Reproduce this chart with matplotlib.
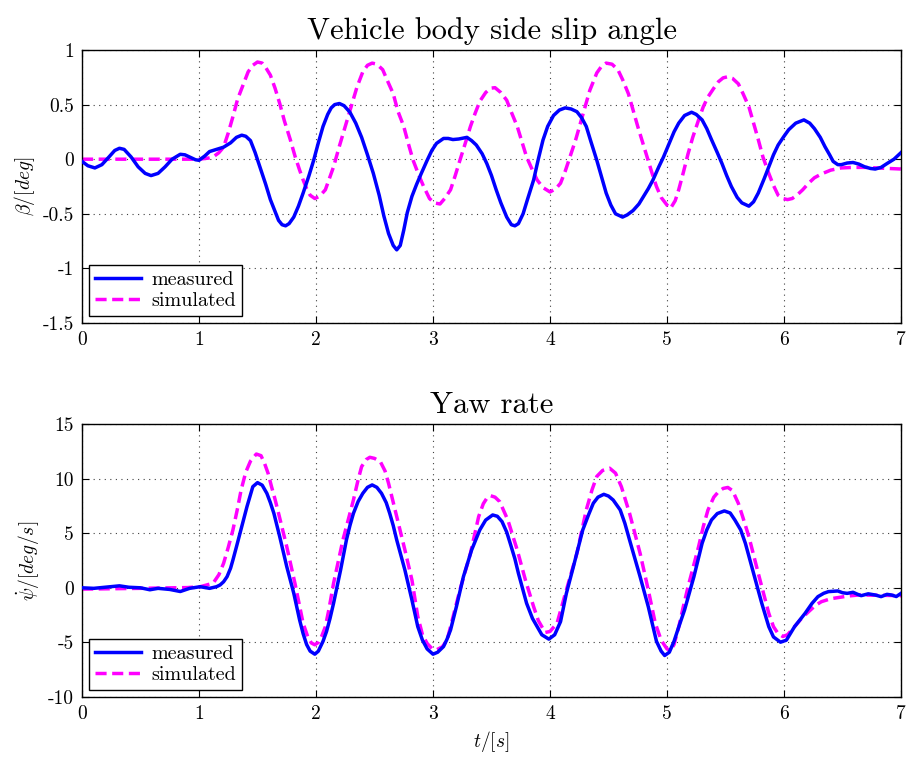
"""
Vehicle body side slip angle and yaw rate: measured vs simulated
"""
import matplotlib
matplotlib.use("Agg")
import matplotlib.pyplot as plt
import numpy as np

# ============= DATA =============
# side slip angle, measured
t_beta_meas = [0.00, 0.05, 0.11, 0.17, 0.23, 0.28, 0.32, 0.36, 0.42, 0.48, 0.54, 0.59, 0.65, 0.71, 0.77,
               0.84, 0.88, 0.92, 0.97, 1.00, 1.05, 1.09, 1.15, 1.21, 1.27, 1.32, 1.365, 1.40, 1.44, 1.48,
               1.52, 1.57, 1.61, 1.65, 1.68, 1.71, 1.74, 1.77, 1.81, 1.85, 1.89, 1.94, 1.98, 2.02, 2.06,
               2.10, 2.13, 2.16, 2.20, 2.24, 2.29, 2.34, 2.39, 2.44, 2.49, 2.54, 2.58, 2.62, 2.66, 2.69,
               2.72, 2.75, 2.78, 2.82, 2.86, 2.90, 2.95, 2.99, 3.03, 3.09, 3.13, 3.17, 3.22, 3.29, 3.33,
               3.37, 3.42, 3.46, 3.50, 3.54, 3.58, 3.63, 3.67, 3.70, 3.73, 3.77, 3.81, 3.86, 3.90, 3.94,
               3.98, 4.03, 4.08, 4.13, 4.18, 4.23, 4.27, 4.31, 4.35, 4.40, 4.44, 4.48, 4.52, 4.56, 4.62,
               4.66, 4.71, 4.76, 4.80, 4.84, 4.88, 4.93, 4.97, 5.03, 5.06, 5.10, 5.15, 5.21, 5.25, 5.30,
               5.34, 5.38, 5.43, 5.47, 5.51, 5.55, 5.60, 5.64, 5.70, 5.74, 5.78, 5.83, 5.87, 5.91, 5.95,
               6.00, 6.04, 6.10, 6.17, 6.22, 6.26, 6.31, 6.35, 6.39, 6.42, 6.46, 6.49, 6.54, 6.59, 6.64,
               6.69, 6.74, 6.78, 6.83, 6.88, 6.94, 7.00]
beta_meas = [-0.02, -0.06, -0.08, -0.05, 0.02, 0.08, 0.10, 0.09, 0.02, -0.07, -0.13, -0.15, -0.13, -0.07, 0.00,
             0.045, 0.04, 0.02, -0.005, -0.01, 0.03, 0.07, 0.09, 0.11, 0.15, 0.20, 0.22, 0.21, 0.17, 0.06,
             -0.07, -0.23, -0.37, -0.48, -0.56, -0.60, -0.61, -0.59, -0.53, -0.43, -0.31, -0.15, -0.01, 0.15, 0.30,
             0.41, 0.47, 0.50, 0.51, 0.49, 0.43, 0.33, 0.20, 0.04, -0.13, -0.33, -0.52, -0.68, -0.79, -0.83,
             -0.79, -0.65, -0.49, -0.34, -0.23, -0.13, -0.01, 0.08, 0.145, 0.19, 0.19, 0.18, 0.185, 0.20, 0.17,
             0.13, 0.05, -0.04, -0.15, -0.28, -0.40, -0.53, -0.60, -0.61, -0.59, -0.50, -0.36, -0.19, 0.00, 0.175,
             0.30, 0.40, 0.45, 0.47, 0.46, 0.435, 0.38, 0.30, 0.16, -0.01, -0.16, -0.31, -0.42, -0.50, -0.53,
             -0.51, -0.47, -0.41, -0.34, -0.27, -0.19, -0.07, 0.02, 0.175, 0.25, 0.33, 0.40, 0.43, 0.41, 0.36,
             0.28, 0.18, 0.06, -0.04, -0.15, -0.25, -0.35, -0.40, -0.43, -0.39, -0.31, -0.18, -0.07, 0.04, 0.13,
             0.21, 0.27, 0.33, 0.36, 0.33, 0.28, 0.20, 0.115, 0.04, -0.02, -0.05, -0.05, -0.035, -0.03, -0.045,
             -0.07, -0.085, -0.09, -0.075, -0.04, 0.00, 0.06]

# side slip angle, simulated
t_beta_sim = [0.00, 0.50, 1.00, 1.08, 1.12, 1.17, 1.21, 1.25, 1.29, 1.33, 1.38, 1.42, 1.46, 1.50, 1.54,
              1.57, 1.61, 1.65, 1.69, 1.73, 1.78, 1.82, 1.86, 1.89, 1.92, 1.95, 1.99, 2.03, 2.08, 2.11,
              2.15, 2.20, 2.25, 2.30, 2.35, 2.40, 2.44, 2.48, 2.52, 2.57, 2.61, 2.66, 2.70, 2.75, 2.79,
              2.83, 2.88, 2.92, 2.97, 3.01, 3.06, 3.10, 3.15, 3.19, 3.23, 3.28, 3.32, 3.36, 3.40, 3.45,
              3.49, 3.53, 3.58, 3.63, 3.67, 3.72, 3.76, 3.80, 3.85, 3.89, 3.94, 4.00, 4.05, 4.09, 4.13,
              4.17, 4.22, 4.26, 4.30, 4.34, 4.40, 4.44, 4.48, 4.53, 4.58, 4.62, 4.67, 4.71, 4.75, 4.79,
              4.83, 4.87, 4.91, 4.95, 5.00, 5.03, 5.07, 5.10, 5.14, 5.18, 5.22, 5.27, 5.31, 5.35, 5.40,
              5.44, 5.48, 5.52, 5.56, 5.61, 5.65, 5.70, 5.74, 5.78, 5.82, 5.87, 5.91, 5.95, 5.99, 6.03,
              6.07, 6.11, 6.16, 6.21, 6.26, 6.32, 6.40, 6.49, 6.59, 6.69, 6.80, 6.90, 7.00]
beta_sim = [0.00, 0.00, 0.00, 0.01, 0.02, 0.06, 0.11, 0.24, 0.39, 0.55, 0.69, 0.80, 0.86, 0.89, 0.88,
            0.84, 0.77, 0.65, 0.51, 0.35, 0.18, 0.03, -0.10, -0.19, -0.27, -0.33, -0.36, -0.34, -0.28, -0.19,
            -0.07, 0.12, 0.30, 0.48, 0.66, 0.80, 0.86, 0.88, 0.87, 0.82, 0.72, 0.60, 0.44, 0.30, 0.14,
            -0.01, -0.15, -0.25, -0.36, -0.40, -0.41, -0.36, -0.28, -0.15, -0.01, 0.16, 0.30, 0.42, 0.53, 0.61,
            0.65, 0.655, 0.61, 0.54, 0.43, 0.30, 0.16, 0.02, -0.10, -0.19, -0.26, -0.30, -0.27, -0.22, -0.11,
            0.02, 0.18, 0.33, 0.48, 0.63, 0.79, 0.85, 0.88, 0.87, 0.82, 0.73, 0.60, 0.45, 0.30, 0.16,
            0.02, -0.12, -0.25, -0.35, -0.42, -0.45, -0.38, -0.28, -0.12, 0.05, 0.20, 0.36, 0.48, 0.57, 0.65,
            0.71, 0.745, 0.755, 0.74, 0.69, 0.60, 0.48, 0.33, 0.18, 0.02, -0.13, -0.24, -0.33, -0.36, -0.37,
            -0.36, -0.33, -0.28, -0.22, -0.17, -0.135, -0.10, -0.08, -0.075, -0.075, -0.08, -0.085, -0.09]

# yaw rate, measured
t_psi_meas = [0.00, 0.10, 0.20, 0.32, 0.40, 0.50, 0.58, 0.65, 0.75, 0.84, 0.92, 1.01, 1.09, 1.15, 1.18,
              1.21, 1.24, 1.27, 1.29, 1.32, 1.35, 1.38, 1.41, 1.44, 1.46, 1.50, 1.54, 1.58, 1.61, 1.64,
              1.69, 1.72, 1.75, 1.78, 1.81, 1.86, 1.89, 1.92, 1.95, 1.99, 2.02, 2.06, 2.09, 2.12, 2.15,
              2.18, 2.21, 2.26, 2.29, 2.32, 2.36, 2.40, 2.44, 2.48, 2.52, 2.56, 2.60, 2.63, 2.66, 2.69,
              2.76, 2.82, 2.87, 2.91, 2.95, 3.00, 3.04, 3.09, 3.12, 3.15, 3.20, 3.26, 3.33, 3.40, 3.45,
              3.51, 3.55, 3.59, 3.63, 3.66, 3.70, 3.73, 3.80, 3.85, 3.89, 3.93, 3.99, 4.04, 4.09, 4.14,
              4.20, 4.28, 4.33, 4.37, 4.41, 4.46, 4.50, 4.54, 4.60, 4.64, 4.68, 4.77, 4.84, 4.88, 4.91,
              4.95, 4.98, 5.02, 5.06, 5.10, 5.15, 5.19, 5.23, 5.30, 5.34, 5.38, 5.43, 5.49, 5.54, 5.58,
              5.63, 5.67, 5.74, 5.81, 5.87, 5.91, 5.97, 6.02, 6.09, 6.18, 6.24, 6.29, 6.34, 6.38, 6.46,
              6.50, 6.54, 6.59, 6.63, 6.66, 6.72, 6.78, 6.83, 6.88, 6.92, 6.96, 7.00]
psi_meas = [0.00, -0.05, 0.05, 0.18, 0.05, 0.00, -0.18, -0.05, -0.15, -0.34, -0.05, 0.10, -0.05, 0.10, 0.26,
            0.55, 1.02, 1.80, 2.55, 3.75, 4.99, 6.25, 7.43, 8.55, 9.26, 9.63, 9.40, 8.65, 7.80, 6.82,
            4.68, 3.30, 1.94, 0.70, -0.50, -2.95, -4.20, -5.20, -5.80, -6.08, -5.80, -4.90, -4.00, -2.80, -1.42,
            0.10, 1.62, 4.38, 5.70, 6.82, 7.90, 8.65, 9.20, 9.42, 9.20, 8.65, 7.80, 6.82, 5.70, 4.38,
            1.62, -1.12, -3.56, -4.80, -5.60, -6.08, -5.90, -5.38, -4.70, -3.86, -1.73, 1.02, 3.46, 5.30, 6.20,
            6.67, 6.55, 6.06, 5.10, 4.07, 2.65, 1.33, -1.42, -2.80, -3.56, -4.30, -4.70, -4.30, -3.10, -0.51,
            1.94, 5.30, 6.70, 7.74, 8.30, 8.56, 8.40, 8.04, 7.13, 5.90, 4.38, 1.02, -1.73, -3.56, -4.90,
            -5.80, -6.20, -5.90, -4.90, -3.60, -2.03, -0.50, 1.02, 4.07, 5.30, 6.21, 6.80, 7.04, 6.85, 6.21,
            5.30, 4.07, 1.33, -1.42, -3.56, -4.50, -4.98, -4.80, -3.56, -2.34, -1.42, -0.81, -0.50, -0.35, -0.29,
            -0.45, -0.51, -0.41, -0.60, -0.72, -0.55, -0.66, -0.81, -0.60, -0.66, -0.80, -0.51]

# yaw rate, simulated
t_psi_sim = [0.00, 0.50, 0.90, 1.01, 1.08, 1.12, 1.17, 1.21, 1.25, 1.29, 1.33, 1.36, 1.40, 1.44, 1.49,
             1.53, 1.56, 1.59, 1.62, 1.65, 1.68, 1.75, 1.82, 1.89, 1.93, 1.96, 1.99, 2.02, 2.05, 2.08,
             2.11, 2.15, 2.23, 2.32, 2.36, 2.39, 2.43, 2.46, 2.50, 2.55, 2.59, 2.62, 2.69, 2.76, 2.82,
             2.87, 2.91, 2.95, 2.99, 3.03, 3.08, 3.12, 3.15, 3.23, 3.32, 3.39, 3.43, 3.46, 3.49, 3.53,
             3.57, 3.64, 3.72, 3.79, 3.86, 3.90, 3.93, 3.96, 4.00, 4.06, 4.14, 4.23, 4.31, 4.36, 4.40,
             4.45, 4.51, 4.56, 4.61, 4.68, 4.77, 4.84, 4.90, 4.95, 5.00, 5.03, 5.06, 5.10, 5.14, 5.18,
             5.27, 5.31, 5.35, 5.40, 5.44, 5.48, 5.52, 5.56, 5.61, 5.65, 5.70, 5.78, 5.87, 5.91, 5.95,
             5.99, 6.03, 6.09, 6.15, 6.21, 6.27, 6.32, 6.40, 6.46, 6.55, 6.64, 6.80, 7.00]
psi_sim = [-0.12, -0.05, 0.02, 0.10, 0.30, 0.41, 1.20, 2.24, 3.70, 5.30, 7.30, 8.96, 10.60, 11.60, 12.25,
           12.10, 11.40, 10.50, 9.26, 8.10, 6.82, 3.77, 0.41, -3.25, -4.50, -5.05, -5.22, -5.00, -4.40, -3.56,
           -2.00, 0.41, 4.38, 8.04, 9.90, 11.10, 11.75, 11.95, 11.85, 11.55, 10.70, 9.57, 6.52, 3.46, 0.71,
           -2.64, -4.30, -5.10, -5.55, -5.68, -5.40, -4.80, -3.56, -0.20, 3.16, 6.51, 7.70, 8.20, 8.44, 8.30,
           7.89, 6.20, 3.46, 0.71, -1.73, -3.00, -3.56, -4.09, -4.00, -3.25, -0.20, 3.16, 7.13, 9.00, 10.20,
           10.75, 10.95, 10.50, 9.26, 6.82, 3.16, -0.20, -3.25, -4.80, -5.60, -5.74, -5.20, -3.60, -1.70, 0.10,
           3.77, 5.60, 7.12, 8.30, 8.80, 9.10, 9.19, 8.90, 7.73, 6.40, 4.68, 1.33, -2.34, -3.56, -4.20,
           -4.46, -4.30, -3.56, -2.80, -2.19, -1.60, -1.27, -1.00, -0.90, -0.75, -0.66, -0.68, -0.72]

x_ticks = [0, 1, 2, 3, 4, 5, 6, 7]
beta_ticks = [-1.5, -1, -0.5, 0, 0.5, 1]
beta_tick_labels = ['-1.5', '-1', '-0.5', '0', '0.5', '1']
psi_ticks = [-10, -5, 0, 5, 10, 15]
psi_tick_labels = ['-10', '-5', '0', '5', '10', '15']

# ============= STYLE =============
plt.rcParams['font.family'] = 'serif'
plt.rcParams['font.serif'] = ['cmr10', 'DejaVu Serif']
plt.rcParams['mathtext.fontset'] = 'cm'
plt.rcParams['axes.unicode_minus'] = False
plt.rcParams['axes.formatter.use_mathtext'] = True

BLUE = '#0000ff'
MAGENTA = '#ff00ff'


def style_axes(ax, yticks, ylabels, ylim):
    ax.set_xlim(0, 7)
    ax.set_ylim(*ylim)
    ax.set_xticks(x_ticks)
    ax.set_xticklabels([str(v) for v in x_ticks])
    ax.set_yticks(yticks)
    ax.set_yticklabels(ylabels)
    ax.tick_params(direction='in', top=True, right=True, length=5, width=0.8,
                   labelsize=14, pad=6)
    ax.grid(True, color='0.25', linestyle=(0, (1, 4)), linewidth=0.8)
    for sp in ax.spines.values():
        sp.set_linewidth(1.0)


def draw(ax, t1, y1, t2, y2):
    ax.plot(t1, y1, color=BLUE, lw=2.5, label='measured', zorder=3)
    line, = ax.plot(t2, y2, color=MAGENTA, lw=2.5, label='simulated', zorder=2)
    line.set_dashes([3.2, 1.6])
    leg = ax.legend(loc='lower left', fontsize=14.5, fancybox=False, framealpha=1,
                    edgecolor='k', handlelength=2.3, labelspacing=0.15,
                    borderpad=0.3, handletextpad=0.5, borderaxespad=0.35)
    leg.get_frame().set_linewidth(1.0)


fig = plt.figure(figsize=(9.07, 7.6), dpi=100)
ax1 = fig.add_axes([82 / 907, 1 - 323 / 760, 819 / 907, 273 / 760])
ax2 = fig.add_axes([82 / 907, 1 - 697 / 760, 819 / 907, 273 / 760])

draw(ax1, t_beta_meas, beta_meas, t_beta_sim, beta_sim)
style_axes(ax1, beta_ticks, beta_tick_labels, (-1.5, 1))
ax1.set_title('Vehicle body side slip angle', fontsize=22, pad=8)
ax1.set_ylabel(r'$\beta/[deg]$', fontsize=14)

draw(ax2, t_psi_meas, psi_meas, t_psi_sim, psi_sim)
style_axes(ax2, psi_ticks, psi_tick_labels, (-10, 15))
ax2.set_title('Yaw rate', fontsize=22, pad=8)
ax2.set_ylabel(r'$\dot{\psi}/[deg/s]$', fontsize=14)
ax2.set_xlabel(r'$t/[s]$', fontsize=14)

fig.savefig('out.png', dpi=100)
